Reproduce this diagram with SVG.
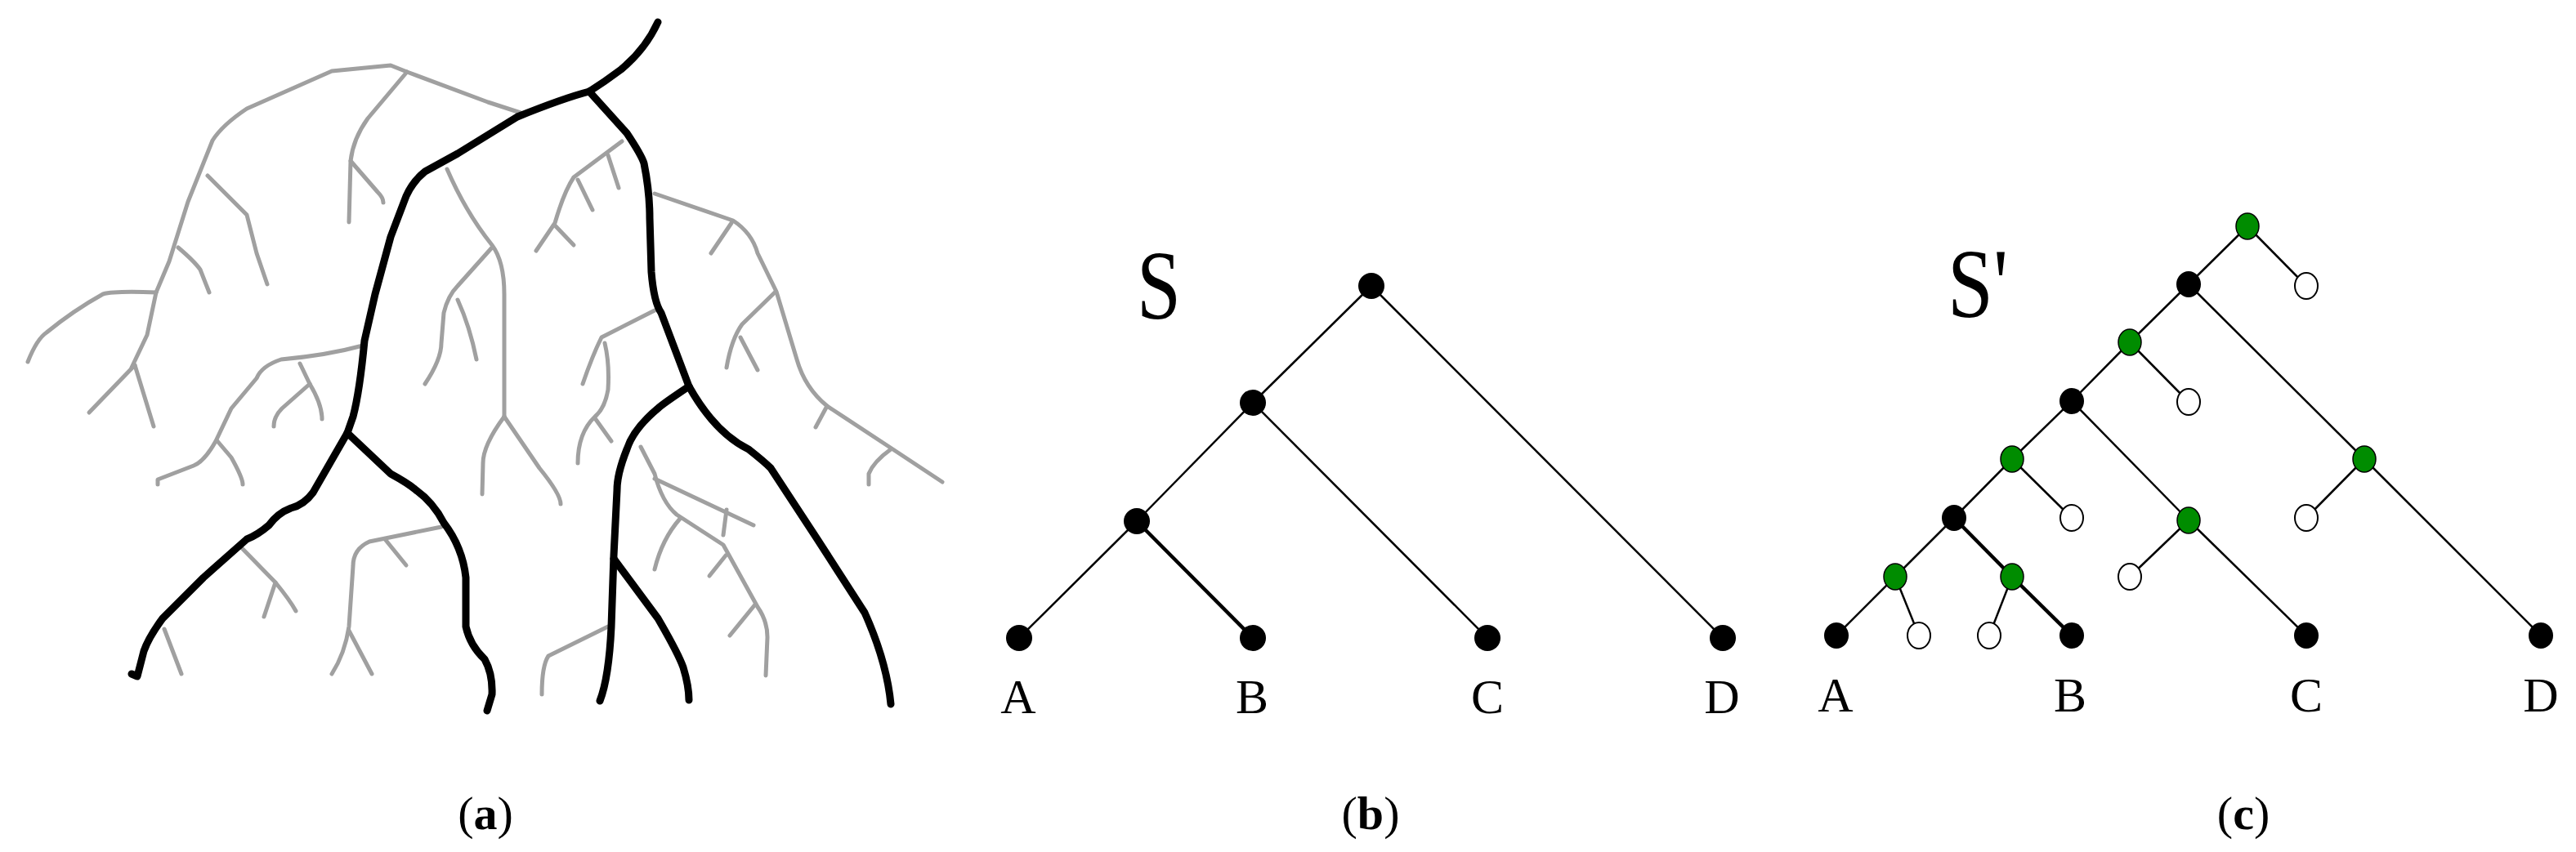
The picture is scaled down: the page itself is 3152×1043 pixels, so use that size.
<svg xmlns="http://www.w3.org/2000/svg" width="3152" height="1043" viewBox="0 0 3152 1043">
<style>
.g{fill:none;stroke:#a0a0a0;stroke-width:5;stroke-linecap:round;stroke-linejoin:round}
.k{fill:none;stroke:#000;stroke-width:9;stroke-linecap:round;stroke-linejoin:round}
.e{stroke:#000;stroke-width:2.5;fill:none}
.e2{stroke:#000;stroke-width:4.5;fill:none}
.nb{fill:#000}
.ng{fill:#008c00;stroke:#000;stroke-width:1.5}
.no{fill:#fff;stroke:#000;stroke-width:2}
.lbl{font-family:"Liberation Serif",serif;font-size:60px;text-anchor:middle}
.cap{font-family:"Liberation Serif",serif;font-size:58px;text-anchor:middle}
</style>
<rect width="3152" height="1043" fill="#fff"/>
<g id="panel-a">
<g id="gray">
<path class="g" d="M34,443 Q45,415 57,407 Q90,380 126,360 Q140,356 191,358"/>
<path class="g" d="M191,358 L207,320 L230,247 L260,172 Q272,153 302,133 L406,87 L478,80 L498,88 L597,125 L637,138"/>
<path class="g" d="M191,358 L180,410 L161,450"/>
<path class="g" d="M165,447 L109,505"/>
<path class="g" d="M165,447 L188,522"/>
<path class="g" d="M498,88 L450,145 Q432,170 429,197 L427,272"/>
<path class="g" d="M429,197 L462,235 Q469,242 469,248"/>
<path class="g" d="M254,215 L302,263 L314,310 L327,348"/>
<path class="g" d="M218,303 Q238,320 245,330 L256,358"/>
<path class="g" d="M547,207 Q570,260 602,300 Q617,320 617,360 L617,510"/>
<path class="g" d="M617,510 Q591,545 591,567 L590,605"/>
<path class="g" d="M617,510 L660,573 Q686,605 686,617"/>
<path class="g" d="M602,303 L560,350 Q548,362 543,383 L540,420 Q540,440 520,470"/>
<path class="g" d="M560,367 Q575,400 583,440"/>
<path class="g" d="M444,423 Q400,435 344,440 Q320,448 314,463 L283,500 L264,540 Q250,565 237,570 L193,587 L193,593"/>
<path class="g" d="M367,445 L379,470 Q394,495 394,513"/>
<path class="g" d="M379,470 L345,500 Q335,510 335,522"/>
<path class="g" d="M266,540 L283,560 Q297,585 297,593"/>
<path class="g" d="M295,670 L337,713 Q355,735 362,748"/>
<path class="g" d="M337,713 L323,755"/>
<path class="g" d="M201,770 L222,825"/>
<path class="g" d="M540,645 L452,663 Q432,672 432,693 L427,767 Q422,800 406,825"/>
<path class="g" d="M427,772 L455,825"/>
<path class="g" d="M471,660 L497,692"/>
<path class="g" d="M761,173 L702,217 Q690,235 679,273 L656,307"/>
<path class="g" d="M744,190 L757,230"/>
<path class="g" d="M707,220 L725,257"/>
<path class="g" d="M680,277 L702,300"/>
<path class="g" d="M801,237 L897,270 Q920,285 927,310 L950,357 L975,440 Q985,475 1012,497 L1088,547 L1153,590"/>
<path class="g" d="M895,273 L870,310"/>
<path class="g" d="M949,357 L908,397 Q895,415 889,450"/>
<path class="g" d="M906,413 L927,453"/>
<path class="g" d="M1012,497 L998,523"/>
<path class="g" d="M1090,550 Q1069,565 1063,580 L1063,593"/>
<path class="g" d="M801,380 L736,413 Q725,435 713,470"/>
<path class="g" d="M740,420 Q746,445 744,477 Q740,500 728,510 Q707,530 707,567"/>
<path class="g" d="M728,512 L748,540"/>
<path class="g" d="M784,547 L801,580 Q810,615 828,630 L885,667 L927,743 Q939,760 939,780 L937,827"/>
<path class="g" d="M801,586 L922,643"/>
<path class="g" d="M889,624 L885,655"/>
<path class="g" d="M832,635 Q810,660 801,697"/>
<path class="g" d="M888,680 L868,705"/>
<path class="g" d="M924,740 L893,778"/>
<path class="g" d="M744,767 L671,803 Q663,815 663,850"/>
</g>
<g id="black">
<path class="k" d="M805,27 Q790,60 760,85 Q740,100 721,112"/>
<path class="k" d="M721,112 Q690,120 633,143 L560,188 L520,210 Q505,222 497,240 L478,290 L459,360 L446,417 Q440,480 432,510 L425,530"/>
<path class="k" d="M425,530 L406,563 L383,603 Q372,618 356,622 Q340,628 329,643 Q315,655 302,660 L249,707 L199,757 Q182,780 176,797 L168,828 L161,825"/>
<path class="k" d="M425,530 L478,580 Q500,592 509,600 Q530,615 543,640 Q566,670 570,707 L570,767 Q575,790 593,807 Q603,825 602,850 L596,870"/>
<path class="k" d="M721,112 L767,163 Q785,190 788,200 Q795,235 795,267 L797,333 Q800,370 809,383 L843,473"/>
<path class="k" d="M843,473 Q875,530 916,550 Q935,565 943,573 L1000,660 L1058,750 Q1085,810 1090,862"/>
<path class="k" d="M843,473 Q810,495 805,500 Q775,525 767,550 Q755,580 755,600 L751,680 L748,767 Q745,830 734,858"/>
<path class="k" d="M751,684 L805,757 Q830,800 836,817 Q843,840 843,857"/>
</g>
</g>
<g id="connectors">
<line class="e" x1="1678" y1="350" x2="1533" y2="493"/>
<line class="e" x1="1678" y1="350" x2="2108" y2="781"/>
<line class="e" x1="1533" y1="493" x2="1391" y2="638"/>
<line class="e" x1="1533" y1="493" x2="1820" y2="781"/>
<line class="e" x1="1391" y1="638" x2="1247" y2="781"/>
<line class="e2" x1="1391" y1="638" x2="1533" y2="781"/>

<line class="e" x1="2750" y1="277" x2="2678" y2="348"/>
<line class="e" x1="2750" y1="277" x2="2822" y2="350"/>
<line class="e" x1="2678" y1="348" x2="2606" y2="419"/>
<line class="e" x1="2678" y1="348" x2="2893" y2="562"/>
<line class="e" x1="2606" y1="419" x2="2535" y2="491"/>
<line class="e" x1="2606" y1="419" x2="2678" y2="492"/>
<line class="e" x1="2535" y1="491" x2="2462" y2="562"/>
<line class="e" x1="2535" y1="491" x2="2678" y2="637"/>
<line class="e" x1="2462" y1="562" x2="2391" y2="634"/>
<line class="e" x1="2462" y1="562" x2="2535" y2="634"/>
<line class="e" x1="2893" y1="562" x2="2822" y2="634"/>
<line class="e" x1="2893" y1="562" x2="3109" y2="778"/>
<line class="e" x1="2678" y1="637" x2="2606" y2="706"/>
<line class="e" x1="2678" y1="637" x2="2822" y2="778"/>
<line class="e" x1="2391" y1="634" x2="2319" y2="706"/>
<line class="e2" x1="2391" y1="634" x2="2462" y2="706"/>
<line class="e" x1="2319" y1="706" x2="2247" y2="778"/>
<line class="e" x1="2319" y1="706" x2="2348" y2="778"/>
<line class="e" x1="2462" y1="706" x2="2434" y2="778"/>
<line class="e2" x1="2462" y1="706" x2="2535" y2="778"/>
</g>
<g id="panel-b">
<text x="1418" y="390" font-family="Liberation Serif,serif" font-size="120" text-anchor="middle" textLength="54" lengthAdjust="spacingAndGlyphs">S</text>
<g id="b-root"><circle class="nb" cx="1678" cy="350" r="16"/></g>
<g id="b-n2"><circle class="nb" cx="1533" cy="493" r="16"/></g>
<g id="b-n3"><circle class="nb" cx="1391" cy="638" r="16"/></g>
<g id="b-A"><circle class="nb" cx="1247" cy="781" r="16"/><text class="lbl" x="1246" y="873">A</text></g>
<g id="b-B"><circle class="nb" cx="1533" cy="781" r="16"/><text class="lbl" x="1532" y="873">B</text></g>
<g id="b-C"><circle class="nb" cx="1820" cy="781" r="16"/><text class="lbl" x="1820" y="873">C</text></g>
<g id="b-D"><circle class="nb" cx="2108" cy="781" r="16"/><text class="lbl" x="2107" y="873">D</text></g>
</g>
<g id="panel-c">
<text x="2420" y="388" font-family="Liberation Serif,serif" font-size="120" text-anchor="middle" textLength="74" lengthAdjust="spacingAndGlyphs">S'</text>
<g id="c-g1"><ellipse class="ng" cx="2750" cy="277" rx="14" ry="16"/></g>
<g id="c-b1"><ellipse class="nb" cx="2678" cy="348" rx="15" ry="16"/></g>
<g id="c-o1"><ellipse class="no" cx="2822" cy="350" rx="14" ry="16"/></g>
<g id="c-g2"><ellipse class="ng" cx="2606" cy="419" rx="14" ry="16"/></g>
<g id="c-o2"><ellipse class="no" cx="2678" cy="492" rx="14" ry="16"/></g>
<g id="c-b2"><ellipse class="nb" cx="2535" cy="491" rx="15" ry="16"/></g>
<g id="c-g3"><ellipse class="ng" cx="2462" cy="562" rx="14" ry="16"/></g>
<g id="c-gR"><ellipse class="ng" cx="2893" cy="562" rx="14" ry="16"/></g>
<g id="c-o3"><ellipse class="no" cx="2535" cy="634" rx="14" ry="16"/></g>
<g id="c-b3"><ellipse class="nb" cx="2391" cy="634" rx="15" ry="16"/></g>
<g id="c-gC"><ellipse class="ng" cx="2678" cy="637" rx="14" ry="16"/></g>
<g id="c-oR"><ellipse class="no" cx="2822" cy="634" rx="14" ry="16"/></g>
<g id="c-g4"><ellipse class="ng" cx="2319" cy="706" rx="14" ry="16"/></g>
<g id="c-g5"><ellipse class="ng" cx="2462" cy="706" rx="14" ry="16"/></g>
<g id="c-oC"><ellipse class="no" cx="2606" cy="706" rx="14" ry="16"/></g>
<g id="c-oA"><ellipse class="no" cx="2348" cy="778" rx="14" ry="16"/></g>
<g id="c-oB"><ellipse class="no" cx="2434" cy="778" rx="14" ry="16"/></g>
<g id="c-A"><ellipse class="nb" cx="2247" cy="778" rx="15" ry="16"/><text class="lbl" x="2246" y="871">A</text></g>
<g id="c-B"><ellipse class="nb" cx="2535" cy="778" rx="15" ry="16"/><text class="lbl" x="2533" y="871">B</text></g>
<g id="c-C"><ellipse class="nb" cx="2822" cy="778" rx="15" ry="16"/><text class="lbl" x="2822" y="871">C</text></g>
<g id="c-D"><ellipse class="nb" cx="3109" cy="778" rx="15" ry="16"/><text class="lbl" x="3109" y="871">D</text></g>
</g>
<g id="captions">
<text class="cap" x="594" y="1015">(<tspan font-weight="bold">a</tspan>)</text>
<text class="cap" x="1677" y="1015">(<tspan font-weight="bold">b</tspan>)</text>
<text class="cap" x="2745" y="1015">(<tspan font-weight="bold">c</tspan>)</text>
</g>
</svg>
